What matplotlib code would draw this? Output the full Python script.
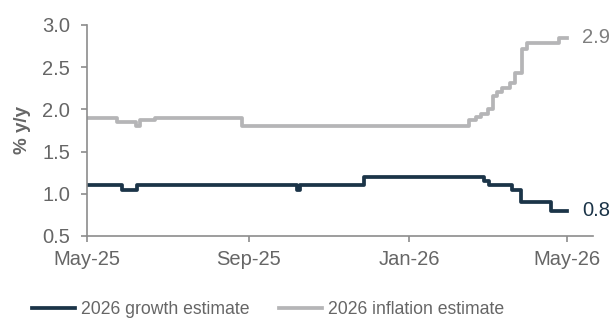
import matplotlib
matplotlib.use("Agg")
import matplotlib.pyplot as plt
import pandas as pd

plt.rcParams['font.family'] = ['Liberation Sans', 'DejaVu Sans']

growth_dates = ["2025-05-01", "2025-05-28", "2025-06-08", "2025-10-08", "2025-10-10",
                "2025-11-28", "2026-02-27", "2026-03-03", "2026-03-20", "2026-03-27",
                "2026-04-19", "2026-05-01"]
growth_values = [1.10, 1.05, 1.10, 1.05, 1.10, 1.20, 1.15, 1.10, 1.05, 0.90, 0.80, 0.80]

infl_dates = ["2025-05-01", "2025-05-24", "2025-06-07", "2025-06-10", "2025-06-22",
              "2025-08-27", "2026-02-12", "2026-02-16", "2026-02-21", "2026-02-25",
              "2026-03-02", "2026-03-06", "2026-03-09", "2026-03-13", "2026-03-19",
              "2026-03-23", "2026-03-28", "2026-04-01", "2026-04-25", "2026-05-01"]
infl_values = [1.90, 1.85, 1.80, 1.87, 1.90, 1.80, 1.80, 1.875, 1.91, 1.95,
               2.00, 2.16, 2.21, 2.25, 2.31, 2.43, 2.71, 2.79, 2.85, 2.85]

series_names = ["2026 growth estimate", "2026 inflation estimate"]
end_labels = ["0.8", "2.9"]
tick_dates = ["2025-05-01", "2025-09-01", "2026-01-01", "2026-05-01"]
tick_labels = ["May-25", "Sep-25", "Jan-26", "May-26"]
yticks = [0.5, 1.0, 1.5, 2.0, 2.5, 3.0]

navy = "#1b3448"
grey = "#b5b5b7"
txt = "#666666"
axc = "#8c8c8c"

fig = plt.figure(figsize=(6.14, 3.18), dpi=100)
ax = fig.add_axes([0.1417, 0.2579, 0.8241, 0.6635])

gd = pd.to_datetime(growth_dates)
idt = pd.to_datetime(infl_dates)
ax.plot(gd, growth_values, color=navy, lw=2.7, drawstyle="steps-post",
        solid_joinstyle="round", label=series_names[0])
ax.plot(idt, infl_values, color=grey, lw=2.7, drawstyle="steps-post",
        solid_joinstyle="round", label=series_names[1])

ax.set_ylim(0.5, 3.0)
ax.set_xlim(pd.Timestamp("2025-05-01"), pd.Timestamp("2026-05-21"))
ax.set_yticks(yticks)
ax.set_yticklabels([f"{v:.1f}" for v in yticks])
ax.set_xticks(pd.to_datetime(tick_dates))
ax.set_xticklabels(tick_labels)

for s in ["top", "right"]:
    ax.spines[s].set_visible(False)
for s in ["left", "bottom"]:
    ax.spines[s].set_color(axc)
    ax.spines[s].set_linewidth(1.2)
ax.tick_params(axis="both", colors=axc, labelcolor=txt, labelsize=14.5, length=4, width=1.2)
ax.tick_params(axis="x", pad=6)
ax.tick_params(axis="y", pad=8)

ax.set_ylabel("% y/y", color=txt, fontsize=13.5, fontweight="bold", labelpad=8)

ax.annotate(end_labels[0], xy=(gd[-1], growth_values[-1]), xytext=(11, 0),
            textcoords="offset points", va="center", ha="left", color=navy, fontsize=14.5)
ax.annotate(end_labels[1], xy=(idt[-1], infl_values[-1]), xytext=(11, 0),
            textcoords="offset points", va="center", ha="left", color="#7f7f7f", fontsize=14.5)

leg = fig.legend(loc="center left", bbox_to_anchor=(32 / 614, 1 - 309.5 / 318), ncol=2,
                 frameon=False, fontsize=12.7, handlelength=2.45, handletextpad=0.3,
                 columnspacing=1.7, borderpad=0, borderaxespad=0)
for t in leg.get_texts():
    t.set_color(txt)

fig.savefig("out.png", dpi=100)
